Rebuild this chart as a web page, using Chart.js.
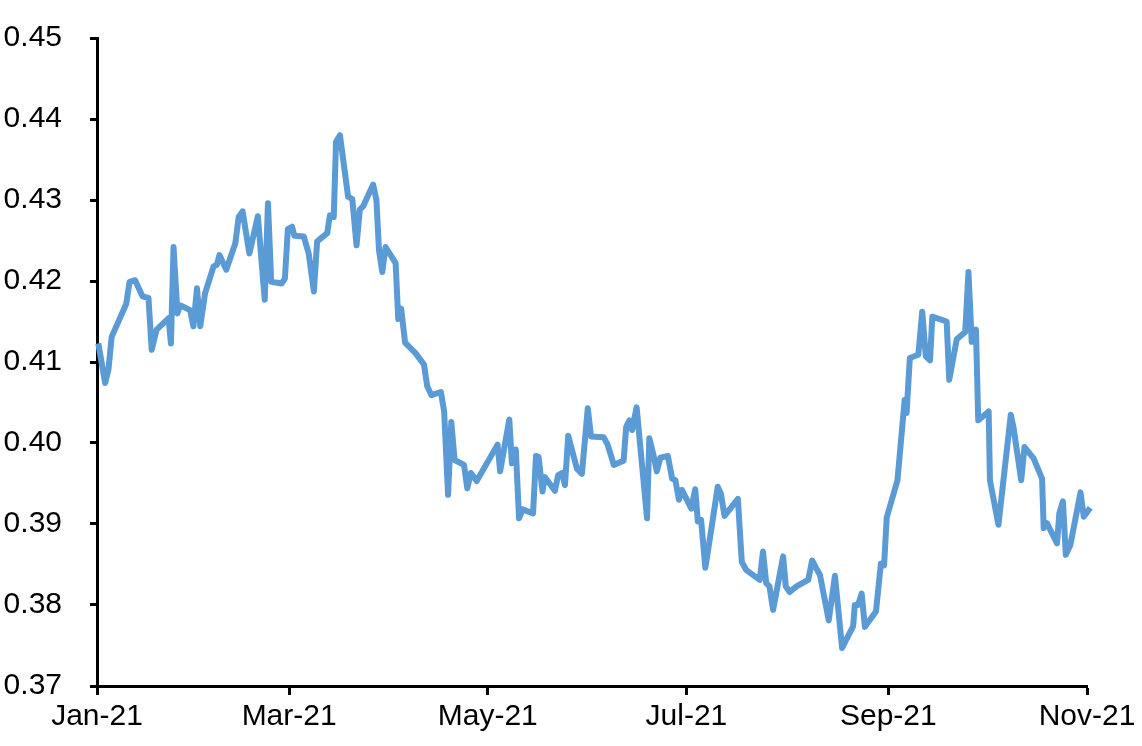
<!DOCTYPE html>
<html>
<head>
<meta charset="utf-8">
<script src="https://cdn.jsdelivr.net/npm/chart.js@4/dist/chart.umd.min.js"></script>
<style>
  html, body { margin: 0; padding: 0; background: #fff; }
  #wrap { width: 1142px; height: 746px; }
</style>
</head>
<body>
<div id="wrap"><canvas id="rateChart" width="1142" height="746"></canvas></div>
<script>
// days since 1 Jan 2021
const days = [
  0.4, 2.5, 3.5, 4.5, 9.0, 10.0, 11.7, 14.0, 15.8, 16.8, 18.3, 22.0, 22.7, 23.5, 24.7, 25.5,
  28.6, 29.6, 30.7, 31.7, 33.2, 35.8, 36.8, 37.6, 39.7, 42.5, 43.5, 44.7, 46.8, 49.4, 51.5, 52.5,
  53.5, 56.7, 57.7, 58.6, 59.9, 60.6, 63.5, 65.0, 66.6, 67.6, 70.7, 71.5, 72.7, 73.4, 74.6, 77.1,
  78.4, 79.7, 80.7, 81.7, 84.8, 85.8, 86.6, 87.6, 88.6, 91.7, 92.5, 93.4, 94.6, 97.8, 100.4, 101.4,
  102.7, 105.6, 106.6, 107.8, 108.8, 109.8, 112.7, 113.7, 114.8, 116.6, 123.0, 123.8, 126.6, 127.4,
  128.6, 129.6, 130.7, 133.9, 134.8, 135.6, 136.8, 137.5, 140.6, 141.6, 142.8, 143.7, 144.7, 147.4,
  148.9, 150.7, 151.7, 155.6, 156.8, 158.7, 161.7, 162.5, 163.5, 164.3, 165.7, 168.9, 169.6, 171.0,
  171.9, 173.0, 175.3, 176.6, 177.6, 178.7, 179.6, 182.5, 183.7, 184.5, 185.5, 186.8, 189.0, 190.6,
  191.6, 192.7, 196.8, 198.0, 199.4, 203.5, 204.5, 205.5, 206.5, 207.6, 210.7, 211.5, 212.7, 214.8,
  218.4, 219.6, 220.9, 222.0, 224.7, 226.6, 228.8, 232.2, 232.7, 233.7, 234.8, 235.8, 239.2, 240.7,
  241.7, 242.5, 245.8, 248.0, 248.6, 249.6, 252.2, 253.4, 254.5, 255.8, 256.5, 260.9, 261.7, 264.0,
  266.6, 267.6, 268.6, 269.9, 270.6, 273.8, 274.2, 276.8, 280.6, 281.4, 283.8, 284.8, 287.6, 290.2,
  290.7, 291.7, 294.8, 295.5, 296.6, 297.5, 298.9, 302.0, 303.0, 305.0
];
const values = [
  0.4123, 0.4074, 0.4090, 0.4131, 0.4172, 0.4199, 0.4201, 0.4181, 0.4179, 0.4115, 0.4140, 0.4154, 0.4123, 0.4242, 0.4160, 0.4170,
  0.4164, 0.4144, 0.4191, 0.4144, 0.4185, 0.4218, 0.4220, 0.4232, 0.4214, 0.4247, 0.4279, 0.4286, 0.4234, 0.4280, 0.4177, 0.4296,
  0.4199, 0.4197, 0.4203, 0.4264, 0.4267, 0.4256, 0.4255, 0.4234, 0.4187, 0.4249, 0.4259, 0.4281, 0.4279, 0.4372, 0.4380, 0.4304,
  0.4301, 0.4244, 0.4288, 0.4292, 0.4319, 0.4300, 0.4238, 0.4211, 0.4242, 0.4222, 0.4153, 0.4166, 0.4124, 0.4111, 0.4097, 0.4070,
  0.4059, 0.4063, 0.4039, 0.3936, 0.4026, 0.3979, 0.3973, 0.3944, 0.3963, 0.3953, 0.3998, 0.3965, 0.4029, 0.3975,
  0.3992, 0.3907, 0.3918, 0.3913, 0.3984, 0.3983, 0.3940, 0.3958, 0.3941, 0.3960, 0.3963, 0.3948, 0.4009, 0.3968,
  0.3962, 0.4043, 0.4008, 0.4007, 0.3998, 0.3973, 0.3978, 0.4020, 0.4028, 0.4016, 0.4044, 0.3907, 0.4006, 0.3983,
  0.3965, 0.3982, 0.3984, 0.3956, 0.3954, 0.3930, 0.3942, 0.3919, 0.3943, 0.3903, 0.3905, 0.3846, 0.3903, 0.3946,
  0.3937, 0.3910, 0.3931, 0.3853, 0.3843, 0.3831, 0.3866, 0.3827, 0.3823, 0.3794, 0.3860, 0.3823, 0.3816, 0.3823,
  0.3831, 0.3855, 0.3845, 0.3837, 0.3781, 0.3836, 0.3747, 0.3774, 0.3800, 0.3800, 0.3814, 0.3773, 0.3792, 0.3851,
  0.3849, 0.3908, 0.3954, 0.4053, 0.4037, 0.4105, 0.4109, 0.4162, 0.4107, 0.4102, 0.4156, 0.4150, 0.4078, 0.4128,
  0.4137, 0.4211, 0.4125, 0.4140, 0.4028, 0.4039, 0.3954, 0.3899, 0.4035, 0.4020, 0.3954, 0.3995, 0.3981, 0.3956,
  0.3895, 0.3901, 0.3876, 0.3913, 0.3928, 0.3862, 0.3874, 0.3939, 0.3909, 0.3920
];

const tickDays = [0, 59, 120, 181, 243, 304];
const tickLabels = ['Jan-21', 'Mar-21', 'May-21', 'Jul-21', 'Sep-21', 'Nov-21'];

const yMin = 0.37;
const yMax = 0.45;
const yStep = 0.01;

const points = days.map((d, i) => ({ x: d, y: values[i] }));
const labelFont = { family: '"Liberation Sans", Arial, sans-serif', size: 30 };

// keep the plot box fixed: no extra room for label overhang
function noOverhang(scale) {
    scale.paddingTop = 0;
    scale.paddingBottom = 0;
    scale.paddingLeft = 0;
    scale.paddingRight = 0;
}

new Chart(document.getElementById('rateChart').getContext('2d'), {
    type: 'line',
    data: {
        datasets: [{
            data: points,
            borderColor: '#5B9BD5',
            borderWidth: 6,
            borderJoinStyle: 'round',
            pointRadius: 0,
            tension: 0,
            clip: false
        }]
    },
    options: {
        responsive: false,
        animation: false,
        layout: { padding: { top: 38, right: 55, left: 0, bottom: 0 } },
        plugins: {
            legend: { display: false },
            tooltip: { enabled: false }
        },
        scales: {
            x: {
                type: 'linear',
                min: 0,
                max: 304,
                afterBuildTicks: function (scale) {
                    scale.ticks = tickDays.map(v => ({ value: v }));
                },
                afterFit: function (scale) {
                    scale.height = 60;
                    noOverhang(scale);
                },
                border: { display: true, color: '#000', width: 3 },
                grid: {
                    display: true,
                    drawOnChartArea: false,
                    drawTicks: true,
                    tickLength: 9,
                    tickColor: '#000',
                    tickWidth: 3
                },
                ticks: {
                    autoSkip: false,
                    maxRotation: 0,
                    color: '#000',
                    font: labelFont,
                    padding: 4,
                    callback: function (value, index) {
                        return tickLabels[index];
                    }
                }
            },
            y: {
                min: yMin,
                max: yMax,
                afterFit: function (scale) {
                    scale.width = 97;
                    noOverhang(scale);
                },
                border: { display: true, color: '#000', width: 3 },
                grid: {
                    display: true,
                    drawOnChartArea: false,
                    drawTicks: true,
                    tickLength: 7,
                    tickColor: '#000',
                    tickWidth: 3
                },
                ticks: {
                    stepSize: yStep,
                    color: '#000',
                    font: labelFont,
                    padding: 28,
                    callback: function (value) {
                        return value.toFixed(2);
                    }
                }
            }
        }
    }
});
</script>
</body>
</html>
